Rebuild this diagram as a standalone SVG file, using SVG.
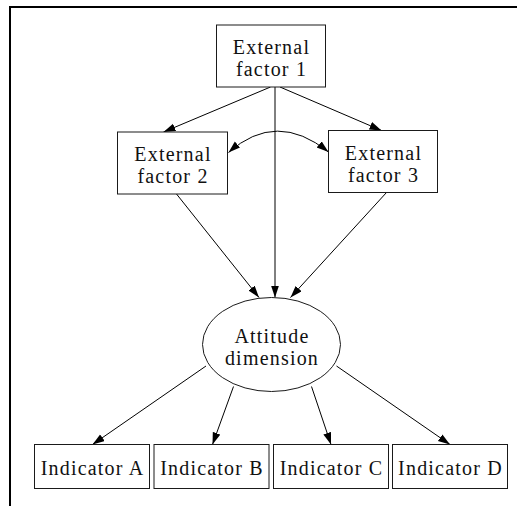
<svg xmlns="http://www.w3.org/2000/svg" width="517" height="506" viewBox="0 0 517 506">
  <style>
    .node rect, .node ellipse { fill: #ffffff; stroke: #1a1a1a; stroke-width: 1; }
    .node text { font-family: "Liberation Serif", "Times New Roman", serif; font-size: 20px; letter-spacing: 1.2px; fill: #111111; text-anchor: middle; }
    .edge { fill: none; stroke: #000000; stroke-width: 1; }
    .frame { fill: none; stroke: #000000; stroke-width: 2; }
  </style>
  <defs>
    <marker id="arrow" markerUnits="userSpaceOnUse" markerWidth="13" markerHeight="9" refX="12" refY="4" orient="auto-start-reverse">
      <path d="M0,0 L12,4 L0,8 Z" fill="#000000"/>
    </marker>
  </defs>

  <rect width="517" height="506" fill="#ffffff"/>
  <!-- frame: top and left rules -->
  <path class="frame" d="M10,506 V7 H517"/>

  <!-- connectors -->
  <g id="connectors">
    <path class="edge" d="M270.5,87 L163.5,132" marker-end="url(#arrow)"/>
    <path class="edge" d="M280,87 L381.5,130.5" marker-end="url(#arrow)"/>
    <path class="edge" d="M275,87 L275,297.5" marker-end="url(#arrow)"/>
    <path class="edge" d="M176.5,194 L259,297.5" marker-end="url(#arrow)"/>
    <path class="edge" d="M386.5,192.5 L290.5,297.5" marker-end="url(#arrow)"/>
    <path class="edge" d="M228.5,152.5 Q276.5,110 328.5,152" marker-start="url(#arrow)" marker-end="url(#arrow)"/>
    <path class="edge" d="M206,366 L92.5,444.5" marker-end="url(#arrow)"/>
    <path class="edge" d="M233.5,386.5 L212.5,444.5" marker-end="url(#arrow)"/>
    <path class="edge" d="M311.5,386.5 L331,444.5" marker-end="url(#arrow)"/>
    <path class="edge" d="M336.5,366 L450,444.5" marker-end="url(#arrow)"/>
  </g>

  <g id="external-factor-1" class="node">
    <rect x="216.5" y="25" width="109" height="62"/>
    <text x="271.5" y="54">External</text>
    <text x="271.5" y="76">factor 1</text>
  </g>
  <g id="external-factor-2" class="node">
    <rect x="117.5" y="132" width="110" height="62"/>
    <text x="173" y="161">External</text>
    <text x="173" y="183">factor 2</text>
  </g>
  <g id="external-factor-3" class="node">
    <rect x="328.5" y="130.5" width="109" height="62"/>
    <text x="383.5" y="159.5">External</text>
    <text x="383.5" y="181.5">factor 3</text>
  </g>
  <g id="attitude-dimension" class="node">
    <ellipse cx="271.5" cy="344.5" rx="69" ry="47"/>
    <text x="272" y="342.5">Attitude</text>
    <text x="272" y="364.5">dimension</text>
  </g>
  <g id="indicator-a" class="node">
    <rect x="34.5" y="444.5" width="115" height="44"/>
    <text x="92.5" y="475">Indicator A</text>
  </g>
  <g id="indicator-b" class="node">
    <rect x="154" y="444.5" width="115" height="44"/>
    <text x="212" y="475">Indicator B</text>
  </g>
  <g id="indicator-c" class="node">
    <rect x="273.5" y="444.5" width="115" height="44"/>
    <text x="331.5" y="475">Indicator C</text>
  </g>
  <g id="indicator-d" class="node">
    <rect x="392.5" y="444.5" width="115" height="44"/>
    <text x="450.5" y="475">Indicator D</text>
  </g>
</svg>
